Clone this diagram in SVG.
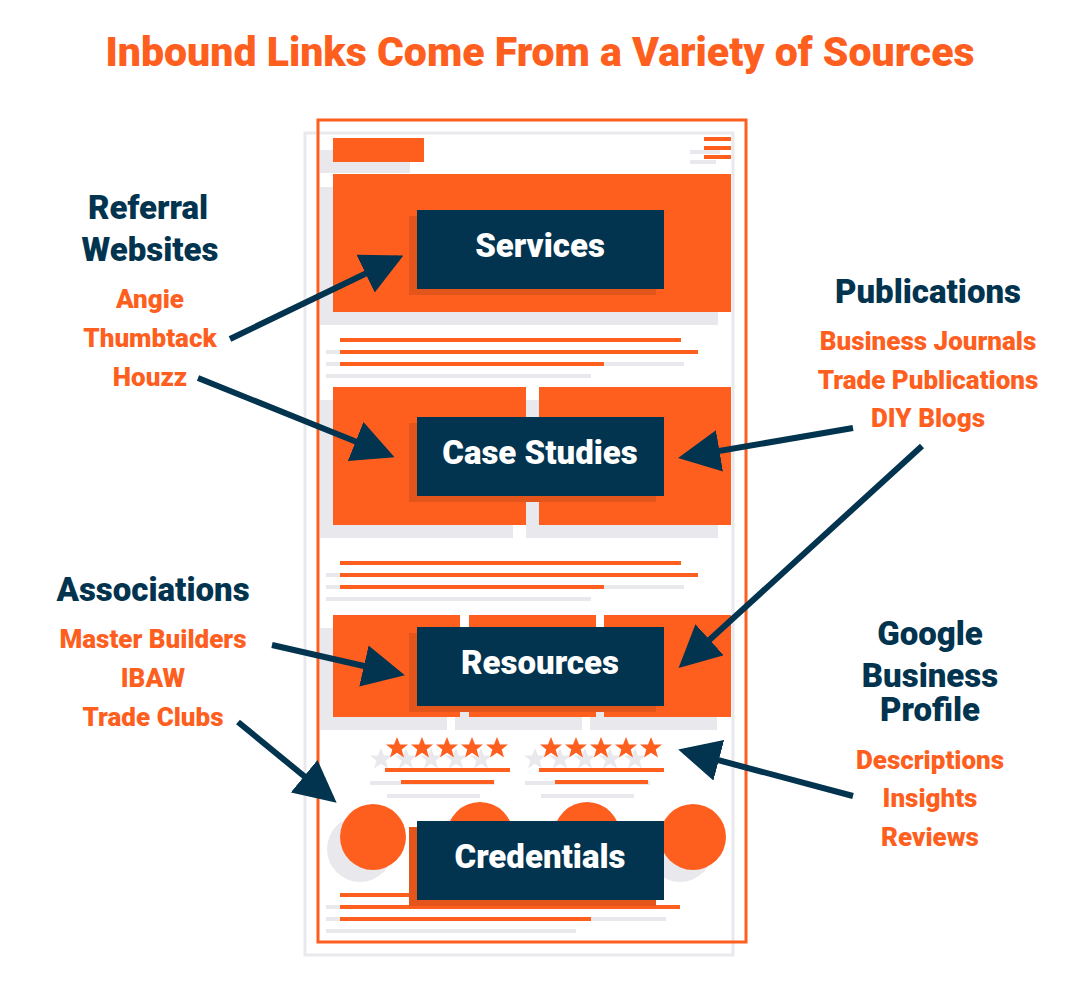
<svg xmlns="http://www.w3.org/2000/svg" width="1080" height="988" viewBox="0 0 1080 988">
<style>
.o{fill:#fe5f1f}.g{fill:#e9e8ec}.sh{fill:#e4551b}.n{fill:#02344f}
.bt{font-family:Roboto,"Liberation Sans",sans-serif;font-weight:900;fill:#fff;font-size:33px;text-anchor:middle}
.h{font-family:Roboto,"Liberation Sans",sans-serif;font-weight:900;fill:#02344f;font-size:33px;text-anchor:middle}
.s{font-family:Roboto,"Liberation Sans",sans-serif;font-weight:900;fill:#fe5f1f;font-size:26px;text-anchor:middle}
.c{stroke:#02344f;stroke-width:6;fill:none;marker-end:url(#ah)}
</style>
<defs>
<marker id="ah" markerWidth="7" markerHeight="7" refX="6" refY="3.5" orient="auto" markerUnits="strokeWidth" viewBox="0 0 7 7"><path d="M0,0 L7,3.5 L0,7 Z" fill="#02344f"/></marker>
<path id="star" d="M0,-11 L3,-3.5 L11,-3.5 L4.7,1.5 L7,9.5 L0,4.7 L-7,9.5 L-4.7,1.5 L-11,-3.5 L-3,-3.5 Z"/>
</defs>
<rect width="1080" height="988" fill="#fff"/>
<text x="540" y="66" text-anchor="middle" font-family="Roboto,'Liberation Sans',sans-serif" font-weight="900" font-size="41" fill="#fe5f1f">Inbound Links Come From a Variety of Sources</text>
<g id="page">
<rect x="305" y="133" width="428" height="822" fill="none" stroke="#e9e8ec" stroke-width="3"/>
<rect x="318" y="120" width="428" height="822" fill="none" stroke="#fe5f1f" stroke-width="3"/>
<rect class="g" x="320" y="150" width="90" height="23"/>
<rect class="o" x="333" y="138" width="91" height="24"/>
<rect class="g" x="690" y="150" width="30" height="4"/><rect class="g" x="690" y="160" width="26" height="4"/>
<rect class="o" x="704" y="137" width="27" height="4"/><rect class="o" x="704" y="146" width="27" height="4"/><rect class="o" x="704" y="155" width="27" height="4"/>
<rect class="g" x="320" y="187" width="398" height="138"/>
<rect class="o" x="333" y="174" width="398" height="138"/>
<g id="lines1"><rect class="g" x="326" y="350" width="342" height="4"/><rect class="g" x="326" y="362" width="358" height="4"/><rect class="g" x="326" y="374" width="265" height="4"/>
<rect class="o" x="340" y="338" width="341" height="4"/><rect class="o" x="340" y="350" width="358" height="4"/><rect class="o" x="340" y="362" width="264" height="4"/></g>
<rect class="g" x="320" y="400" width="193" height="138"/><rect class="g" x="526" y="400" width="192" height="138"/>
<rect class="o" x="333" y="387" width="193" height="138"/><rect class="o" x="539" y="387" width="192" height="138"/>
<g id="lines2"><rect class="g" x="326" y="573" width="342" height="4"/><rect class="g" x="326" y="585" width="358" height="4"/><rect class="g" x="326" y="597" width="265" height="4"/>
<rect class="o" x="340" y="561" width="341" height="4"/><rect class="o" x="340" y="573" width="358" height="4"/><rect class="o" x="340" y="585" width="264" height="4"/></g>
<rect class="g" x="320" y="628" width="127" height="102"/><rect class="g" x="455" y="628" width="127" height="102"/><rect class="g" x="590" y="628" width="127" height="102"/>
<rect class="o" x="333" y="615" width="127" height="102"/><rect class="o" x="469" y="615" width="127" height="102"/><rect class="o" x="604" y="615" width="127" height="102"/>
<g id="stars" fill="#e9e8ec">
<use href="#star" x="381" y="759"/><use href="#star" x="406" y="759"/><use href="#star" x="431" y="759"/><use href="#star" x="456" y="759"/><use href="#star" x="481" y="759"/>
<use href="#star" x="535" y="759"/><use href="#star" x="560" y="759"/><use href="#star" x="585" y="759"/><use href="#star" x="610" y="759"/><use href="#star" x="635" y="759"/>
</g>
<g fill="#fe5f1f">
<use href="#star" x="397" y="748"/><use href="#star" x="422" y="748"/><use href="#star" x="447" y="748"/><use href="#star" x="472" y="748"/><use href="#star" x="497" y="748"/>
<use href="#star" x="551" y="748"/><use href="#star" x="576" y="748"/><use href="#star" x="601" y="748"/><use href="#star" x="626" y="748"/><use href="#star" x="651" y="748"/>
</g>
<rect class="g" x="370" y="781" width="125" height="4"/><rect class="g" x="387" y="794" width="93" height="4"/>
<rect class="g" x="525" y="781" width="125" height="4"/><rect class="g" x="541" y="794" width="93" height="4"/>
<rect class="o" x="385" y="768" width="125" height="4"/><rect class="o" x="401" y="780" width="93" height="4"/>
<rect class="o" x="539" y="768" width="125" height="4"/><rect class="o" x="555" y="780" width="93" height="4"/>
<circle class="g" cx="360" cy="849" r="33"/><circle class="g" cx="467" cy="847" r="33"/><circle class="g" cx="574" cy="847" r="33"/><circle class="g" cx="680" cy="849" r="33"/>
<circle class="o" cx="373" cy="837" r="33"/><circle class="o" cx="480" cy="835" r="33"/><circle class="o" cx="587" cy="835" r="33"/><circle class="o" cx="693" cy="837" r="33"/>
<g id="lines3"><rect class="g" x="326" y="905" width="342" height="4"/><rect class="g" x="326" y="917" width="340" height="4"/><rect class="g" x="326" y="929" width="250" height="4"/>
<rect class="o" x="340" y="893" width="200" height="4"/><rect class="o" x="340" y="905" width="340" height="4"/><rect class="o" x="340" y="917" width="251" height="4"/></g>
</g>
<g id="services"><rect class="sh" x="409" y="216" width="247" height="79"/><rect class="n" x="417" y="210" width="247" height="79"/><text class="bt" x="540" y="257">Services</text></g>
<g id="case"><rect class="sh" x="409" y="423" width="247" height="79"/><rect class="n" x="417" y="417" width="247" height="79"/><text class="bt" x="540" y="464">Case Studies</text></g>
<g id="resources"><rect class="sh" x="409" y="633" width="247" height="79"/><rect class="n" x="417" y="627" width="247" height="79"/><text class="bt" x="540" y="674">Resources</text></g>
<g id="credentials"><rect class="sh" x="409" y="827" width="247" height="79"/><rect class="n" x="417" y="821" width="247" height="79"/><text class="bt" x="540" y="868">Credentials</text></g>
<g id="referral"><text class="h" x="148" y="219">Referral</text><text class="h" x="150" y="261">Websites</text>
<text class="s" x="150" y="308">Angie</text><text class="s" x="150" y="347">Thumbtack</text><text class="s" x="150" y="386">Houzz</text></g>
<g id="associations"><text class="h" x="153" y="601">Associations</text>
<text class="s" x="153" y="648">Master Builders</text><text class="s" x="153" y="687">IBAW</text><text class="s" x="153" y="726">Trade Clubs</text></g>
<g id="publications"><text class="h" x="928" y="303">Publications</text>
<text class="s" x="928" y="350">Business Journals</text><text class="s" x="928" y="389">Trade Publications</text><text class="s" x="928" y="427">DIY Blogs</text></g>
<g id="google"><text class="h" x="930" y="645">Google</text><text class="h" x="930" y="687">Business</text><text class="h" x="930" y="721">Profile</text>
<text class="s" x="930" y="769">Descriptions</text><text class="s" x="930" y="807">Insights</text><text class="s" x="930" y="846">Reviews</text></g>
<g id="connectors">
<line class="c" x1="230" y1="339" x2="398" y2="258"/>
<line class="c" x1="198" y1="378" x2="389" y2="455"/>
<line class="c" x1="853" y1="428" x2="684" y2="457"/>
<line class="c" x1="922" y1="446" x2="683" y2="664"/>
<line class="c" x1="272" y1="645" x2="399" y2="674"/>
<line class="c" x1="238" y1="722" x2="332" y2="799"/>
<line class="c" x1="853" y1="796" x2="684" y2="751"/>
</g>
</svg>
